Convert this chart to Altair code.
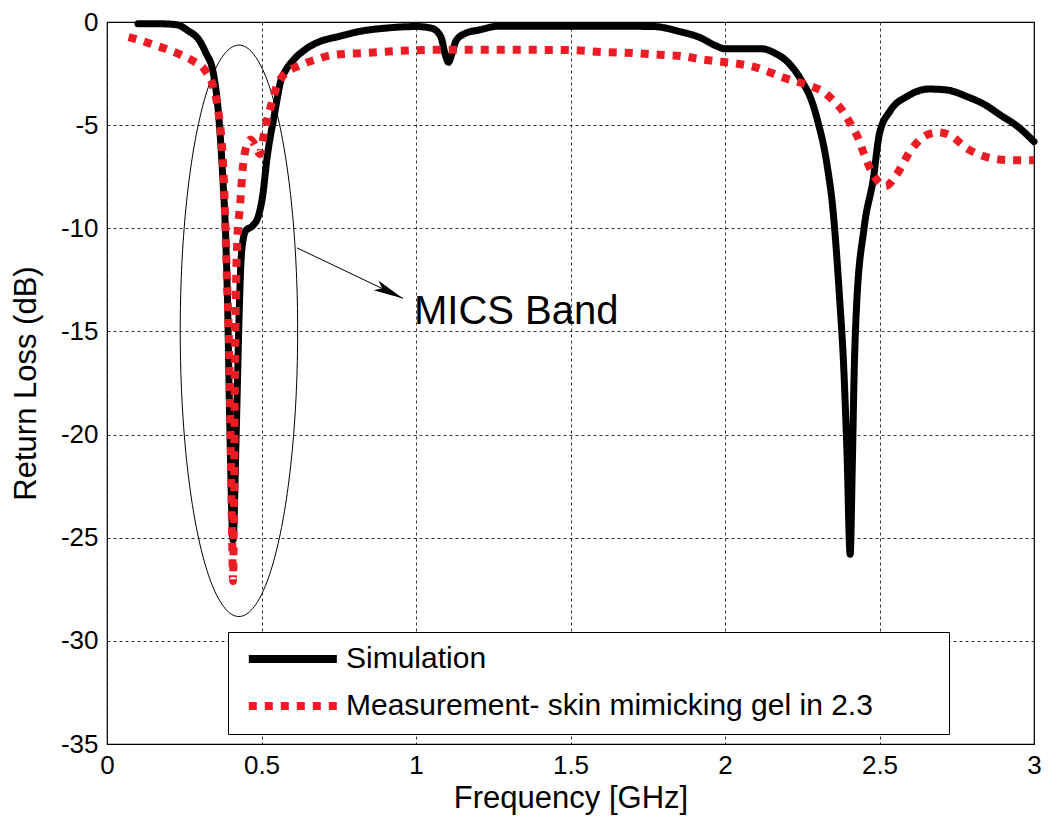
import altair as alt
import numpy as np
import pandas as pd

# ---------------- data ----------------
sim_freq = [0.10, 0.15, 0.20, 0.23, 0.26, 0.30, 0.32, 0.343, 0.36, 0.375, 0.385, 0.39,
            0.398, 0.408, 0.418, 0.428, 0.433, 0.44, 0.45, 0.47, 0.49, 0.505, 0.517,
            0.528, 0.538, 0.55, 0.56, 0.58, 0.60, 0.64, 0.68, 0.75, 0.82, 0.90, 1.00,
            1.05, 1.08, 1.095, 1.105, 1.115, 1.13, 1.16, 1.20, 1.27, 1.40, 1.60, 1.77,
            1.85, 1.92, 1.97, 2.00, 2.12, 2.16, 2.20, 2.25, 2.28, 2.30, 2.33, 2.35,
            2.37, 2.385, 2.395, 2.405, 2.412, 2.418, 2.425, 2.45, 2.48, 2.50, 2.535,
            2.59, 2.66, 2.72, 2.78, 2.84, 2.89, 2.95, 3.00]
sim_db = [-0.08, -0.08, -0.10, -0.15, -0.4, -0.92, -1.5, -2.4, -4.3, -7.6, -10.8, -13.5,
          -20.0, -25.1, -20.0, -14.0, -11.8, -10.6, -10.1, -9.9, -9.4, -8.3, -6.7,
          -5.6, -4.8, -3.8, -3.0, -2.3, -1.9, -1.35, -1.0, -0.7, -0.45, -0.3, -0.22,
          -0.3, -0.7, -1.6, -1.95, -1.6, -0.9, -0.55, -0.4, -0.2, -0.2, -0.2, -0.22,
          -0.45, -0.76, -1.15, -1.3, -1.3, -1.5, -1.9, -2.9, -3.8, -4.8, -6.9, -9.2,
          -13.2, -17.0, -21.0, -25.8, -21.5, -17.0, -14.0, -10.0, -7.6, -5.4, -4.3,
          -3.6, -3.25, -3.3, -3.6, -4.0, -4.5, -5.1, -5.8]

meas_freq = [0.07, 0.10, 0.15, 0.19, 0.24, 0.28, 0.32, 0.345, 0.36, 0.372, 0.378, 0.382,
             0.388, 0.394, 0.40, 0.405, 0.408, 0.411, 0.414, 0.418, 0.422, 0.43, 0.44,
             0.452, 0.465, 0.48, 0.495, 0.507, 0.517, 0.53, 0.55, 0.57, 0.625, 0.68,
             0.73, 0.84, 0.95, 1.06, 1.20, 1.35, 1.49, 1.60, 1.70, 1.80, 1.86, 1.92,
             1.97, 2.03, 2.10, 2.19, 2.275, 2.32, 2.35, 2.38, 2.405, 2.43, 2.45, 2.48,
             2.52, 2.555, 2.60, 2.65, 2.69, 2.73, 2.78, 2.86, 2.92, 3.00]
meas_db = [-0.73, -0.85, -1.1, -1.3, -1.6, -1.9, -2.4, -3.2, -4.3, -6.0, -7.6, -9.3,
           -12.4, -15.0, -20.0, -25.0, -27.1, -23.0, -17.0, -12.5, -10.5, -9.0, -7.0,
           -6.0, -5.7, -6.0, -6.4, -5.5, -4.8, -4.1, -3.1, -2.6, -2.1, -1.8,
           -1.6, -1.5, -1.4, -1.35, -1.35, -1.35, -1.36, -1.45, -1.5, -1.6, -1.65, -1.8,
           -1.9, -2.0, -2.2, -2.7, -3.1, -3.4, -3.8, -4.3, -4.9, -5.6, -6.4, -7.4,
           -7.95, -7.4, -6.25, -5.5, -5.35, -5.5, -6.1, -6.6, -6.7, -6.7]

series_names = ["Simulation", "Measurement- skin mimicking gel in 2.3"]
series_colors = ["#000000", "#ED1C24"]

x_ticks = [0, 0.5, 1, 1.5, 2, 2.5, 3]
y_ticks = [0, -5, -10, -15, -20, -25, -30, -35]

# annotation: ellipse around the MICS band, arrow and label
ell_center = (0.427, -14.97)
ell_radii = (0.19, 13.85)
arrow_start = (0.615, -10.95)
arrow_end = (0.958, -13.4)
label_pos = (1.0, -14.64)
label_text = "MICS Band"

# ---------------- tables ----------------
sim_df = pd.DataFrame({"f": sim_freq, "db": sim_db, "series": series_names[0]})
meas_df = pd.DataFrame({"f": meas_freq, "db": meas_db, "series": series_names[1]})

t = np.linspace(0, 2 * np.pi, 241)
ell_df = pd.DataFrame({
    "t": t,
    "f": ell_center[0] + ell_radii[0] * np.cos(t),
    "db": ell_center[1] + ell_radii[1] * np.sin(t),
})
arrow_df = pd.DataFrame({"f": [arrow_start[0]], "db": [arrow_start[1]],
                         "f2": [arrow_end[0]], "db2": [arrow_end[1]]})
head_df = pd.DataFrame({"f": [arrow_end[0]], "db": [arrow_end[1]]})
label_df = pd.DataFrame({"f": [label_pos[0]], "db": [label_pos[1]], "txt": [label_text]})

FONT = "Liberation Sans"

xscale = alt.Scale(domain=[0, 3], nice=False, zero=False)
yscale = alt.Scale(domain=[-35, 0], nice=False, zero=False)

x_enc = alt.X("f:Q", scale=xscale,
              axis=alt.Axis(values=x_ticks, title="Frequency [GHz]",
                            labelExpr="datum.value + ''", labelPadding=8,
                            labelFlush=False, titlePadding=5))
y_enc = alt.Y("db:Q", scale=yscale,
              axis=alt.Axis(values=y_ticks, title="Return Loss (dB)",
                            labelExpr="datum.value + ''", labelPadding=9,
                            labelFlush=False, titlePadding=18))

# long horizontal legend symbol with a small symbol size, so rows stay compact;
# an invisible title on the right widens the box like the reference
legend_kw = dict(
    title="MM", titleOrient="right", titleOpacity=0, titleFont=FONT,
    titleFontSize=30, titlePadding=14,
    orient="none", legendX=121, legendY=610,
    fillColor="white", strokeColor="black", padding=12, rowPadding=15,
    symbolType="M-0.7,0 L9.3,0", symbolSize=310, symbolStrokeWidth=8,
    labelFont=FONT, labelFontSize=30, labelColor="black", labelLimit=900,
    labelOffset=76,
)

color_enc = alt.Color(
    "series:N",
    scale=alt.Scale(domain=series_names, range=series_colors),
    legend=alt.Legend(**legend_kw),
)
dash_enc = alt.StrokeDash(
    "series:N",
    scale=alt.Scale(domain=series_names, range=[[1, 0], [8, 8]]),
    legend=alt.Legend(**legend_kw),
)

sim_line = alt.Chart(sim_df).mark_line(strokeWidth=7, interpolate="monotone",
                                        strokeCap="round", strokeJoin="round").encode(
    x=x_enc, y=y_enc, color=color_enc, strokeDash=dash_enc)

meas_line = alt.Chart(meas_df).mark_line(strokeWidth=8, interpolate="monotone",
                                          strokeCap="butt").encode(
    x=x_enc, y=y_enc, color=color_enc, strokeDash=dash_enc)

ellipse = alt.Chart(ell_df).mark_line(color="black", strokeWidth=1).encode(
    x="f:Q", y="db:Q", order="t:Q")

arrow = alt.Chart(arrow_df).mark_rule(color="black", strokeWidth=1).encode(
    x="f:Q", y="db:Q", x2="f2:Q", y2="db2:Q")

head = alt.Chart(head_df).mark_point(
    shape="M0,0 L-2,-0.36 L-1.55,0 L-2,0.36 Z", size=900, angle=26,
    filled=True, color="black", opacity=1, strokeWidth=0).encode(x="f:Q", y="db:Q")

label = alt.Chart(label_df).mark_text(
    text=label_text, font=FONT, fontSize=40, align="left", baseline="alphabetic",
    color="black", dx=-2).encode(x="f:Q", y="db:Q")

chart = alt.layer(ellipse, arrow, head, label, sim_line, meas_line).properties(
    width=927, height=722,
    padding={"left": 99, "top": 14, "right": 8, "bottom": 76},
    autosize=alt.AutoSizeParams(type="none"),
    background="white",
).configure_view(
    stroke="black", strokeWidth=1.2
).configure_axis(
    grid=True, gridColor="black", gridDash=[3, 3], gridWidth=0.8, gridOpacity=1,
    domain=False, ticks=False,
    labelFont=FONT, labelFontSize=26, labelColor="black",
    titleFont=FONT, titleFontSize=31, titleFontWeight="normal", titleColor="black",
)

chart.save("out.html", embed_options={"renderer": "svg", "actions": False})
